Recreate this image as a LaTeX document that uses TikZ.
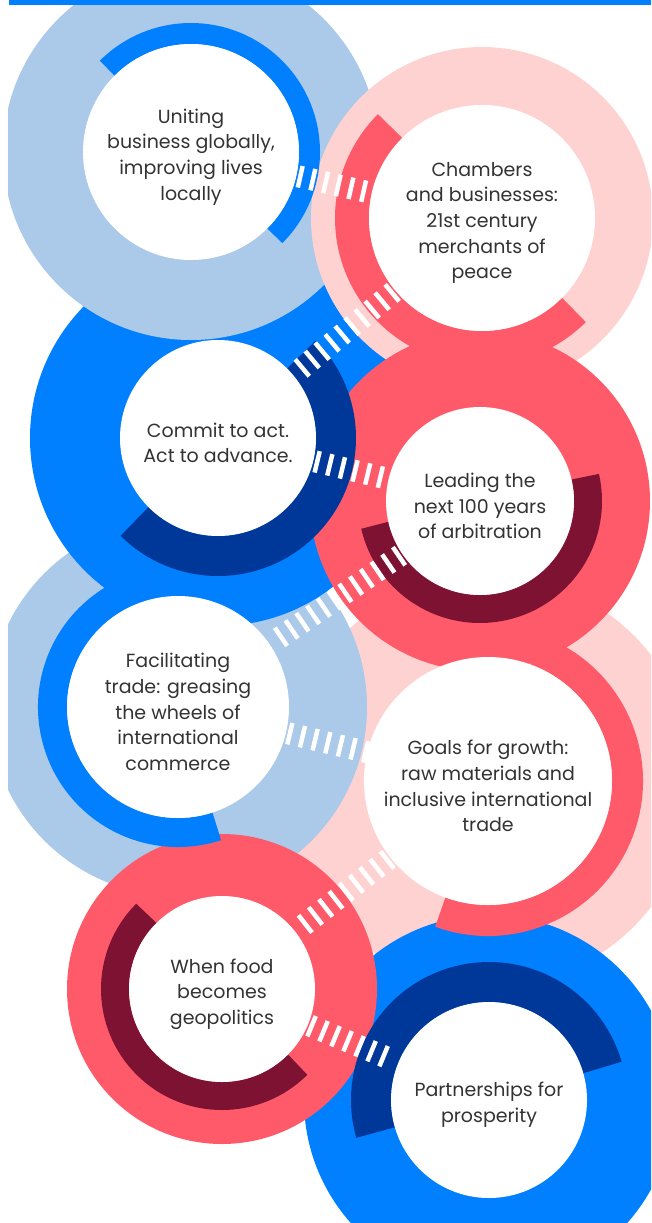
\documentclass[tikz,border=0pt]{standalone}
\usepackage{fontspec}
\setmainfont{Poppins}
\usetikzlibrary{calc}
\definecolor{skyblue}{HTML}{ABC9E9}
\definecolor{azure}{HTML}{007FFF}
\definecolor{navy}{HTML}{00389A}
\definecolor{blush}{HTML}{FFD2D2}
\definecolor{coral}{HTML}{FF5A69}
\definecolor{wine}{HTML}{7E1233}
\definecolor{ink}{HTML}{333333}
\tikzset{
	hole/.style={circle,fill=white,inner sep=0pt,minimum size=#1},
	caption/.style={align=center,text=ink,yshift=-5pt,font=\fontsize{19}{25.7}\selectfont},
	tick/.style={white,line width=4.5pt},
}
% half ring: centre, mid radius, width, from, to, colour
\newcommand{\band}[6]{\draw[#6,line width=#3pt] ($(#1)+(#4:#2)$) arc[start angle=#4,end angle=#5,radius=#2];}
% white ticks between two holes: from, to, first distance, count
\newcommand{\hatch}[4]{%
	\foreach \k [evaluate=\k as \tickpos using #3+13*(\k-1)] in {1,...,#4}
		\draw[tick] ($(#1)!\tickpos pt!(#2)!11pt!90:(#2)$) -- ($(#1)!\tickpos pt!(#2)!11pt!-90:(#2)$);}
\begin{document}
\begin{tikzpicture}[x=1pt,y=1pt]
	\useasboundingbox (0,0) rectangle (651,-1223);
	\clip (8,0) rectangle (651,-1223);
	\coordinate (p1) at (191,-152);
	\coordinate (p2) at (482,-218);
	\coordinate (p3) at (218,-438);
	\coordinate (p4) at (480,-501);
	\coordinate (p5) at (178,-707);
	\coordinate (p6) at (488,-781);
	\coordinate (p7) at (222,-989);
	\coordinate (p8) at (489,-1100);
	% outer discs, back to front
	\fill[blush] (p6) circle (206);
	\fill[azure] (p8) circle (185);
	\fill[skyblue] (p5) circle (189);
	\fill[coral] (p7) circle (155);
	\fill[azure] (p3) circle (188);
	\fill[skyblue] (p1) circle (188);
	\fill[blush] (p2) circle (171);
	\fill[coral] (p4) circle (170);
	% half rings
	\band{p1}{118.5}{21}{-45}{135}{azure}
	\band{p2}{130}{34}{135}{315}{coral}
	\band{p3}{118}{40}{-135}{45}{navy}
	\band{p4}{108}{28}{-167}{13}{wine}
	\band{p5}{125.5}{29}{108}{288}{azure}
	\band{p6}{139.5}{31}{-110}{70}{coral}
	\band{p7}{107}{28}{135}{315}{wine}
	\band{p8}{118}{40}{16}{196}{navy}
	% holes
	\node[hole=216pt] (c1) at (p1) {};
	\node[hole=226pt] (c2) at (p2) {};
	\node[hole=196pt] (c3) at (p3) {};
	\node[hole=188pt] (c4) at (p4) {};
	\node[hole=222pt] (c5) at (p5) {};
	\node[hole=248pt] (c6) at (p6) {};
	\node[hole=186pt] (c7) at (p7) {};
	\node[hole=196pt] (c8) at (p8) {};
	% ticks
	\hatch{c1}{c2}{112}{6}
	\hatch{c2}{c3}{117}{10}
	\hatch{c3}{c4}{102}{6}
	\hatch{c4}{c5}{98}{12}
	\hatch{c5}{c6}{115}{7}
	\hatch{c6}{c7}{128}{9}
	\hatch{c7}{c8}{97}{7}
	% texts
	\node[caption] at (c1) {Uniting\\business globally,\\improving lives\\locally};
	\node[caption] at (c2) {Chambers\\and businesses:\\21st century\\merchants of\\peace};
	\node[caption] at (c3) {Commit to act.\\Act to advance.};
	\node[caption] at (c4) {Leading the\\next 100 years\\of arbitration};
	\node[caption] at (c5) {Facilitating\\trade: greasing\\the wheels of\\international\\commerce};
	\node[caption] at (c6) {Goals for growth:\\raw materials and\\inclusive international\\trade};
	\node[caption] at (c7) {When food\\becomes\\geopolitics};
	\node[caption] at (c8) {Partnerships for\\prosperity};
	% top bar
	\fill[azure] (9,0) rectangle (651,-5);
\end{tikzpicture}
\end{document}
